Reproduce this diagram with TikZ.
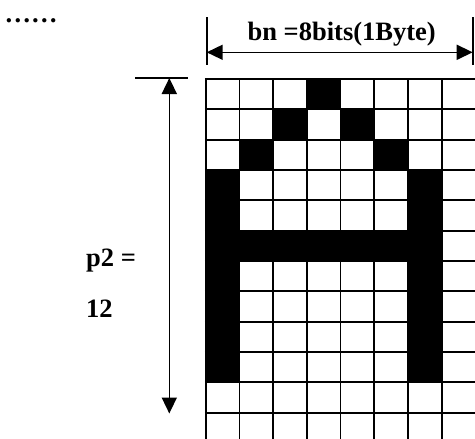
\documentclass[tikz,border=0pt]{standalone}
\usepackage{fontspec}
\setmainfont{Liberation Serif}
\usetikzlibrary{arrows.meta}
\begin{document}
\begin{tikzpicture}[x=1pt,y=-1pt,
  gridline/.style={line width=1.8pt},
  cellon/.style={fill=black,draw=black,line width=1.8pt},
  dimbar/.style={line width=1.6pt},
  dimarrow/.style={line width=1.6pt,{Triangle[length=16pt,width=15pt]}-{Triangle[length=16pt,width=15pt]}},
  lbl/.style={font=\fontsize{26.5}{30}\selectfont\bfseries,inner sep=0pt}]
\useasboundingbox (0,0) rectangle (475,439);
% grid
\def\gx{205.7}\def\gy{79}\def\cw{33.7}\def\rh{30.33}
\foreach \i in {0,...,7} \draw[gridline] (\gx+\i*\cw,\gy) -- (\gx+\i*\cw,445);
\foreach \j in {0,...,12} \draw[gridline] (\gx-0.9,\gy+\j*\rh) -- (480,\gy+\j*\rh);
% black cells (col,row)
\foreach \c/\r in {3/0, 2/1,4/1, 1/2,5/2, 0/3,6/3, 0/4,6/4,
  0/5,1/5,2/5,3/5,4/5,5/5,6/5, 0/6,6/6, 0/7,6/7, 0/8,6/8, 0/9,6/9}
  \filldraw[cellon] (\gx+\c*\cw,\gy+\r*\rh) rectangle (\gx+\c*\cw+\cw,\gy+\r*\rh+\rh);
% top dimension
\coordinate (tl1) at (206.7,17); \coordinate (tl2) at (206.7,65);
\coordinate (tr1) at (472.7,17); \coordinate (tr2) at (472.7,65);
\draw[dimbar] (tl1) -- (tl2);
\draw[dimbar] (tr1) -- (tr2);
\coordinate (ta) at (206.7,52.3); \coordinate (tb) at (472.7,52.3);
\draw[dimarrow] (ta) -- (tb);
\node[lbl,anchor=base] (bn) at (341.7,41) {bn =8bits(1Byte)};
% left dimension
\coordinate (lb1) at (135,78); \coordinate (lb2) at (188,78);
\draw[dimbar] (lb1) -- (lb2);
\coordinate (la) at (169.3,78); \coordinate (lc) at (169.3,413.5);
\draw[dimarrow] (la) -- (lc);
\node[lbl,anchor=base west] (p2) at (86,266) {p2 =};
\node[lbl,anchor=base west] (n12) at (86,317.3) {12};
% dots
\node[lbl,anchor=base west] (dots) at (4.5,23) {……};
\end{tikzpicture}
\end{document}
